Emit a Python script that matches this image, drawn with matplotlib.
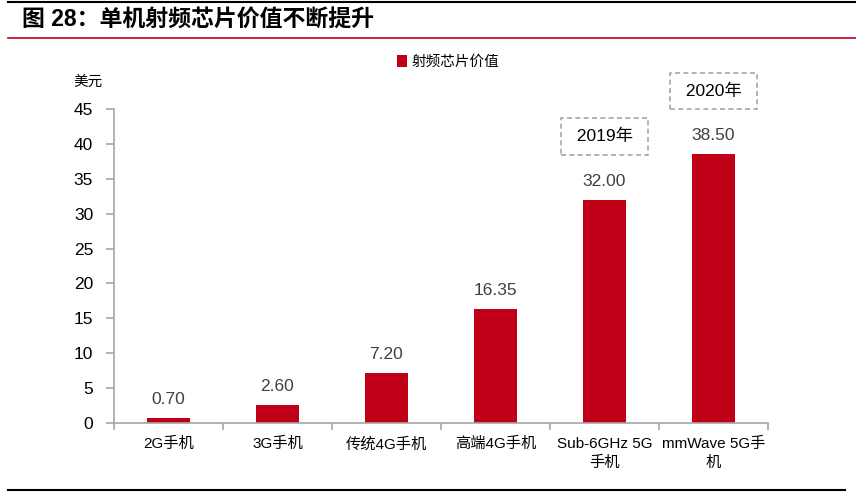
import matplotlib
matplotlib.use("Agg")
import matplotlib.pyplot as plt
import matplotlib.lines as mlines

plt.rcParams['font.family'] = ['Liberation Sans', 'Noto Sans CJK SC']

categories = ["2G手机", "3G手机", "传统4G手机", "高端4G手机", "Sub-6GHz 5G\n手机", "mmWave 5G手\n机"]
values = [0.70, 2.60, 7.20, 16.35, 32.00, 38.50]
value_labels = ["0.70", "2.60", "7.20", "16.35", "32.00", "38.50"]
series_name = "射频芯片价值"
year_notes = {4: "2019年", 5: "2020年"}
yticks = [0, 5, 10, 15, 20, 25, 30, 35, 40, 45]

bar_color = "#C00016"
axis_color = "#A6A6A6"

fig = plt.figure(figsize=(8.56, 4.95), dpi=100)
ax = fig.add_axes([114 / 856, 1 - 423 / 495, (768 - 114) / 856, (423 - 109) / 495])

x = list(range(len(categories)))
bars = ax.bar(x, values, width=0.39, color=bar_color, label=series_name, zorder=2)

ax.set_xlim(-0.5, len(categories) - 0.5)
ax.set_ylim(0, 45)
ax.set_yticks(yticks)
ax.set_yticklabels([str(t) for t in yticks], fontsize=12.5)

# ticks between categories on the x axis
ax.set_xticks([i - 0.5 for i in range(len(categories) + 1)])
ax.set_xticklabels([])
for i, c in enumerate(categories):
    ax.text(i, -2.0, c, ha="center", va="top", fontsize=11, linespacing=1.45)

for s in ["top", "right"]:
    ax.spines[s].set_visible(False)
for s in ["left", "bottom"]:
    ax.spines[s].set_color(axis_color)
    ax.spines[s].set_linewidth(1.2)
ax.tick_params(axis="y", direction="out", length=6, color=axis_color, width=1.2, pad=9)
ax.tick_params(axis="x", direction="out", length=5, color=axis_color, width=1.2)

for b, lab in zip(bars, value_labels):
    ax.annotate(lab, (b.get_x() + b.get_width() / 2, b.get_height()),
                xytext=(0, 8), textcoords="offset points", ha="center", va="bottom",
                fontsize=12.5, color="#404040")

# year notes in dashed boxes
for i, note in year_notes.items():
    ax.annotate(" " + note + " ", (i, values[i]), xytext=(0, 40), textcoords="offset points",
                ha="center", va="bottom", fontsize=12.5, color="black",
                bbox=dict(boxstyle="square,pad=0.6", fc="white", ec="#A6A6A6",
                          ls=(0, (3, 2)), lw=1.2),
                annotation_clip=False)

fig.text(88 / 856, 1 - 82 / 495, "美元", ha="center", va="center", fontsize=10.5)

leg = ax.legend(loc="center", bbox_to_anchor=(448 / 856, 1 - 62 / 495), bbox_transform=fig.transFigure,
                frameon=False, fontsize=10.5, handlelength=0.7, handleheight=0.9, handletextpad=0.3)

# title and rules
fig.text(22 / 856, 1 - 19 / 495, "图 28：单机射频芯片价值不断提升", fontsize=16.5, fontweight="bold",
         va="center", ha="left")
fig.add_artist(mlines.Line2D([8 / 856, 1], [1 - 2 / 495] * 2, color="black", lw=1.5))
fig.add_artist(mlines.Line2D([8 / 856, 1], [1 - 38 / 495] * 2, color="#C00016", lw=1.2))
fig.add_artist(mlines.Line2D([8 / 856, 845 / 856], [1 - 490 / 495] * 2, color="black", lw=1.5))

fig.savefig("out.png", dpi=100)
